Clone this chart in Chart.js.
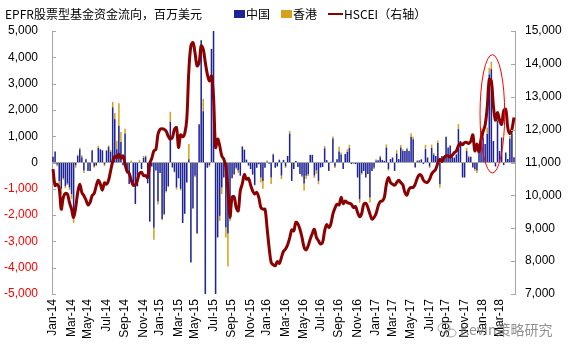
<!DOCTYPE html>
<html>
<head>
<meta charset="utf-8">
<script src="https://cdn.jsdelivr.net/npm/chart.js@4.4.0/dist/chart.umd.min.js"></script>
<style>
  html, body { margin: 0; padding: 0; background: #fff; }
  #wrap { position: relative; width: 570px; height: 350px; }
</style>
</head>
<body>
<div id="wrap"><canvas id="myChart" width="570" height="350"></canvas></div>
<script>
// EPFR weekly fund flows (US$ mn), first week ending 2014-01-03
var china = [
  220, 420, -80, -700, -1000, -600, -900, -800, -950, -1200, -2050, -100, 250, 500, 200, -300, 120, -320, -320, 470,
  -150, -100, 560, 500, 460, -80, 450, 600, 400, 2100, 1650, 500, 1400, 780, -100, 1100, -420, -820, 0, -850,
  -1580, -900, 20, -250, 180, 220, -780, -2250, -150, -2480, -300, -1480, -400, -2150, -1960, -1080, -900,
  1550, -190, -350, -950, -600, -1000, -2300, -1950, -750, 120, -3800, -1750, -500, -2700, 1450, 4650, 1950, -5300,
  -200, -100, 4320, 5300, -5500, -2850, -2030, -950, -570, -2470, -2700, -2150, -600, -450, -200, -300, -500, 600,
  480, 100, -120, -250, -450, -850, -200, -60, -570, -700, -200, 40, -50, -570, 300, -200, -150, 100, -500, 100,
  -150, 250, 1100, -700, -250, 60, -170, -440, -500, -800, -500, -450, 290, 290, -500, -300, -700, -190, -170, 540,
  90, -320, 30, 910, -150, 120, 420, 300, -250, 320, 400, 550, -60, -40, -60, -570, -1400, -400, -320, -570,
  -440, -1330, -320, -200, 80, 90, 200, 100, 60, 570, -250, 130, 190, -320, 340, 130, 570,
  440, 440, 500, 440, 980, 880, -190, 50, 80, 120, -60, 510, 190, -150, 550, 300, 250, 740, -830, 250,
  130, 980, 570, 650, 200, 190, 310, 1270, 820, -570, -570, 440, 200, 220, -190, -250, -300, 500, 1200, 950,
  700, 1080, 3350, 3550, 820, -150, 1600, 440, 950, -100, 380, 130, 900, 1100, 200
];
var hongkong = [
  0, 0, -60, -150, -200, -60, -80, -50, -100, -180, -250, -100, 50, 60, 80, -100, 20, 0, 0, 0,
  -50, -40, 80, 20, 20, -60, 30, 50, 80, 200, 230, 330, 850, 380, 0, 180, 0, 0, 80, -50,
  0, -30, 80, 0, 70, 50, -30, 0, 0, -460, 0, -120, 0, -50, -50, -60, -40,
  380, 0, -30, -80, 0, -60, 0, 0, -30, 580, 0, 0, -60, 0, 0, 0, 470, 0,
  0, -60, 0, 0, 0, 0, -190, -250, 0, -380, -1250, -80, 0, -30, -60, -100, 0, 30,
  20, 20, 0, 0, -30, -30, 0, -20, -190, -300, 0, 40, 0, -250, 40, 0, 0, 20, -130, 0,
  -60, 0, 100, 0, 0, 0, 0, 0, -60, -270, -130, -60, 0, 0, -90, -130, -130, 0, 0, 90,
  0, 0, 0, 80, -60, 0, 180, 80, 0, 0, 100, 120, 0, 0, 0, 0, -130, -60, 0, 0,
  0, -190, 0, -60, 40, 0, 60, 0, 0, 120, -60, 0, 0, 0, 130, 0, 100,
  60, 0, 60, 0, 130, 100, 0, 40, 0, 0, 0, 160, 0, -60, 130, 60, 0, 100, -130, 0,
  0, 0, 0, 0, 60, 0, 0, 190, 0, 0, 0, 120, 60, 0, 0, -60, -100, 0, 100, 190,
  0, 250, 250, 280, 0, 0, 190, 0, 0, 0, 0, 0, 120, 150, 0
];
var hscei = [
  10800, 10300, 10340, 10220, 9580, 9940, 10060, 10040, 9780, 9580, 9330, 9630, 10090, 10340, 10090, 9990, 9860, 9710, 9790, 9990,
  10060, 10290, 10460, 10340, 10160, 10380, 10340, 10460, 10750, 11030, 11190, 11150, 11250, 11130, 11200, 10950, 10730, 10670, 10460, 10310,
  10320, 10460, 10670, 10700, 10600, 10600, 10540, 10970, 11130, 11350, 11400, 11860, 12010, 12030, 12010, 11950, 11800,
  11710, 11760, 12010, 12060, 11460, 11840, 11780, 11880, 12320, 13790, 14550, 14650, 14340, 13940, 14040, 14550, 14440, 14040,
  13680, 13480, 13630, 12980, 11460, 11710, 11510, 11200, 11100, 10870, 10140, 9350, 9940, 9960, 9630, 9530, 10140, 10360,
  10630, 10490, 10520, 10320, 10140, 10040, 10090, 9940, 9630, 9580, 9580, 9020, 8420, 7960, 7890, 7860, 7990, 7930, 8110, 8300,
  8370, 8500, 8700, 8950, 8920, 9180, 9130, 8970, 8720, 8420, 8340, 8470, 8670, 8840, 8970, 8720, 8620, 8520, 8570, 8920,
  9110, 9020, 9130, 9430, 9610, 9730, 9710, 9940, 9750, 9830, 9780, 9760, 9730, 9630, 9660, 9480, 9350, 9450, 9730, 9760,
  9630, 9430, 9280, 9330, 9450, 9680, 9810, 9830, 9940, 10340, 10540, 10390, 10340, 10310, 10390, 10460, 10390,
  10320, 10090, 10010, 10190, 10240, 10240, 10340, 10520, 10630, 10600, 10460, 10400, 10400, 10490, 10650, 10730, 10800, 10980, 11100, 11030,
  11150, 11200, 11200, 11170, 11220, 11300, 11350, 11510, 11580, 11540, 11610, 11610, 11580, 11640, 11840, 11350, 11560, 11330, 11710, 11940,
  12140, 12670, 13530, 13480, 12720, 12290, 12520, 12290, 12160, 12570, 12620, 12060, 11880, 12010, 12370
];
var tickLabels = ['Jan-14','Mar-14','May-14','Jul-14','Sep-14','Nov-14','Jan-15','Mar-15','May-15','Jul-15','Sep-15','Nov-15',
  'Jan-16','Mar-16','May-16','Jul-16','Sep-16','Nov-16','Jan-17','Mar-17','May-17','Jul-17','Sep-17','Nov-17','Jan-18','Mar-18'];
var chartTitle = 'EPFR股票型基金资金流向，百万美元';
var seriesNames = ['中国', '香港', 'HSCEI（右轴）'];
var watermark = 'Kevin策略研究';

var colChina = '#1E2496';
var colHK = '#D6A21E';
var colLine = '#8B0000';
var axisGray = '#A6A6A6';

// weekly category labels
var monthNames = ['Jan','Feb','Mar','Apr','May','Jun','Jul','Aug','Sep','Oct','Nov','Dec'];
var start = Date.UTC(2014, 0, 3);
var weeks = [];
for (var i = 0; i < china.length; i++) {
  weeks.push(new Date(start + i * 7 * 86400000).toISOString().slice(0, 10));
}
function monthLabel(iso) {
  return monthNames[parseInt(iso.slice(5, 7), 10) - 1] + '-' + iso.slice(2, 4);
}
var tickAt = weeks.map(function (w, i) {
  var lab = monthLabel(w);
  if ((i === 0 || monthLabel(weeks[i - 1]) !== lab) && tickLabels.indexOf(lab) >= 0) return lab;
  return null;
});

// header: title + legend
var headerPlugin = {
  id: 'header',
  afterDraw: function (chart) {
    var c = chart.ctx;
    c.save();
    c.textBaseline = 'middle';
    c.fillStyle = '#000';
    c.font = '12px "Noto Sans CJK SC"';
    c.fillText(chartTitle, 5, 14);
    var x = 234;
    var y = 14;
    [colChina, colHK].forEach(function (col, k) {
      c.fillStyle = col;
      c.fillRect(x, y - 4, 11, 8);
      x += 12;
      c.fillStyle = '#000';
      c.fillText(seriesNames[k], x, y);
      x += c.measureText(seriesNames[k]).width + 11;
    });
    c.strokeStyle = colLine;
    c.lineWidth = 2;
    c.beginPath();
    c.moveTo(x, y);
    c.lineTo(x + 15, y);
    c.stroke();
    x += 16;
    c.fillStyle = '#000';
    c.fillText(seriesNames[2], x, y);

    // watermark
    c.font = '14px "Noto Sans CJK SC"';
    c.fillStyle = 'rgba(110,110,110,0.75)';
    c.fillText(watermark, 460, 330);
    c.strokeStyle = 'rgba(130,130,130,0.7)';
    c.lineWidth = 1;
    c.beginPath();
    c.ellipse(444, 328, 6, 5, 0, 0, Math.PI * 2);
    c.stroke();
    c.beginPath();
    c.ellipse(451, 333, 5, 4, 0, 0, Math.PI * 2);
    c.stroke();
    c.restore();
  }
};

// inner tick marks on both value axes
var innerTicks = {
  id: 'innerTicks',
  afterDatasetsDraw: function (chart) {
    var c = chart.ctx;
    c.save();
    c.strokeStyle = axisGray;
    c.lineWidth = 1;
    ['y', 'y1'].forEach(function (id) {
      var s = chart.scales[id];
      s.ticks.forEach(function (t) {
        var py = Math.round(s.getPixelForValue(t.value)) + 0.5;
        c.beginPath();
        if (id === 'y') { c.moveTo(s.right, py); c.lineTo(s.right + 4, py); }
        else { c.moveTo(s.left, py); c.lineTo(s.left - 4, py); }
        c.stroke();
      });
    });
    c.restore();
  }
};

// red ellipse highlighting early-2018 peak
var highlight = { fromWeek: 207.5, toWeek: 219.5, low: -400, high: 4100 };
var ellipsePlugin = {
  id: 'ellipse',
  afterDatasetsDraw: function (chart) {
    var xs = chart.scales.x, ys = chart.scales.y, c = chart.ctx;
    var x1 = xs.getPixelForValue(highlight.fromWeek), x2 = xs.getPixelForValue(highlight.toWeek);
    var y1 = ys.getPixelForValue(highlight.high), y2 = ys.getPixelForValue(highlight.low);
    c.save();
    c.strokeStyle = '#FF0000';
    c.lineWidth = 1;
    c.beginPath();
    c.ellipse((x1 + x2) / 2, (y1 + y2) / 2, (x2 - x1) / 2, (y2 - y1) / 2, 0, 0, Math.PI * 2);
    c.stroke();
    c.restore();
  }
};

Chart.defaults.font.family = '"Liberation Sans", Arial, sans-serif';
Chart.defaults.font.size = 12;
Chart.defaults.color = '#000';

var ctx = document.getElementById('myChart').getContext('2d');
var myChart = new Chart(ctx, {
  type: 'bar',
  data: {
    labels: weeks,
    datasets: [
      {
        type: 'line',
        label: seriesNames[2],
        data: hscei,
        yAxisID: 'y1',
        borderColor: colLine,
        borderWidth: 3,
        pointRadius: 0,
        tension: 0.35,
        fill: false,
        order: 0
      },
      {
        label: seriesNames[0],
        data: china,
        yAxisID: 'y',
        backgroundColor: colChina,
        barPercentage: 0.75,
        categoryPercentage: 1,
        stack: 'flows',
        order: 1
      },
      {
        label: seriesNames[1],
        data: hongkong,
        yAxisID: 'y',
        backgroundColor: colHK,
        barPercentage: 0.75,
        categoryPercentage: 1,
        stack: 'flows',
        order: 1
      }
    ]
  },
  options: {
    responsive: false,
    animation: false,
    devicePixelRatio: 1,
    layout: { padding: { top: 31, left: 0, right: 0, bottom: 0 } },
    plugins: {
      legend: { display: false },
      tooltip: { enabled: false }
    },
    scales: {
      x: {
        stacked: true,
        grid: { display: false, drawTicks: false },
        border: { display: false },
        ticks: {
          autoSkip: false,
          minRotation: 90,
          maxRotation: 90,
          padding: 5,
          font: { size: 12 },
          callback: function (value, index) { return tickAt[index]; }
        },
        afterFit: function (scale) { scale.height = 56; }
      },
      y: {
        stacked: true,
        position: 'left',
        min: -5000,
        max: 5000,
        ticks: {
          stepSize: 1000,
          padding: 14,
          color: function (c) { return c.tick && c.tick.value < 0 ? '#FF0000' : '#000000'; },
          callback: function (v) { return v.toLocaleString('en-US'); }
        },
        grid: {
          drawTicks: false,
          color: function (c) { return c.tick && c.tick.value === 0 ? axisGray : 'rgba(0,0,0,0)'; }
        },
        border: { display: true, color: axisGray, width: 1 },
        afterFit: function (scale) { scale.width = 52; }
      },
      y1: {
        position: 'right',
        min: 7000,
        max: 15000,
        ticks: {
          stepSize: 1000,
          padding: 10,
          callback: function (v) { return v.toLocaleString('en-US'); }
        },
        grid: { drawOnChartArea: false, drawTicks: false },
        border: { display: true, color: axisGray, width: 1 },
        afterFit: function (scale) { scale.width = 55; }
      }
    }
  },
  plugins: [headerPlugin, innerTicks, ellipsePlugin]
});
</script>
</body>
</html>
